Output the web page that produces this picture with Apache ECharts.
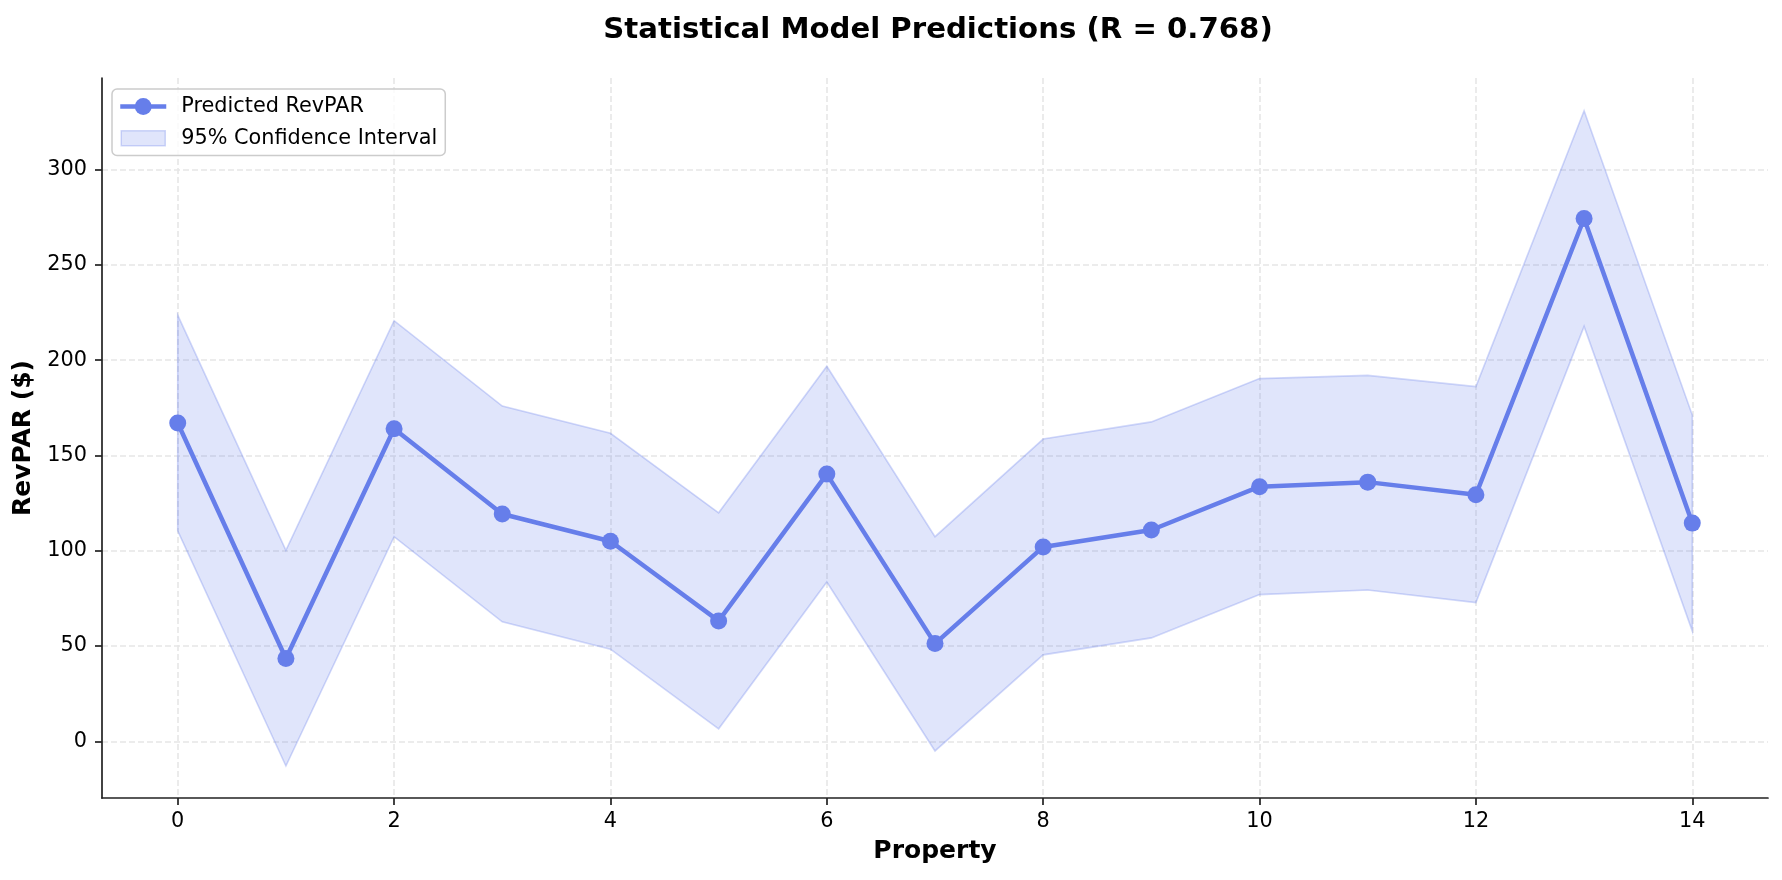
<!DOCTYPE html>
<html>
<head>
<meta charset="utf-8">
<script src="https://cdn.jsdelivr.net/npm/echarts@6/dist/echarts.min.js"></script>
<style>
html,body{margin:0;padding:0;background:#fff;}
#chart{width:1782px;height:880px;}
</style>
</head>
<body>
<div id="chart"></div>
<script>
const properties = [0, 1, 2, 3, 4, 5, 6, 7, 8, 9, 10, 11, 12, 13, 14];
const predicted = [167.0, 43.5, 164.0, 119.3, 105.0, 63.2, 140.2, 51.3, 102.0, 110.9, 133.6, 136.0, 129.4, 274.3, 114.5];
const upperCI = [223.6, 100.2, 220.7, 175.9, 161.6, 119.9, 196.8, 107.4, 158.6, 167.6, 190.3, 192.0, 186.1, 330.8, 171.2];
const lowerCI = [110.4, -12.9, 107.4, 62.7, 48.4, 6.6, 83.6, -5.0, 45.4, 54.3, 77.0, 79.4, 72.8, 217.7, 57.9];
const xTicks = [0, 2, 4, 6, 8, 10, 12, 14];
const yTicks = [0, 50, 100, 150, 200, 250, 300];

const FONT = 'DejaVu Sans';
const LINE = '#667eea';
const FILL = 'rgba(102,126,234,0.2)';
const EDGE = 'rgba(102,126,234,0.3)';

const bandRows = properties.map((p, i) => [p, lowerCI[i], upperCI[i]]);
const predData = properties.map((p, i) => [p, predicted[i]]);

const gridLine = { show: true, lineStyle: { color: '#e6e6e6', width: 1.6, type: [6, 3] } };
const axisLineStyle = { show: true, onZero: false, lineStyle: { color: '#222', width: 1.7 } };

function renderBand(params, api) {
  if (params.dataIndex !== 0) return null;
  const upperPts = bandRows.map(r => api.coord([r[0], r[2]]));
  const lowerPts = bandRows.slice().reverse().map(r => api.coord([r[0], r[1]]));
  return {
    type: 'polygon',
    shape: { points: upperPts.concat(lowerPts) },
    style: { fill: FILL, stroke: EDGE, lineWidth: 1.6 },
    silent: true
  };
}

const chart = echarts.init(document.getElementById('chart'), null, { renderer: 'canvas' });
chart.setOption({
  animation: false,
  backgroundColor: '#fff',
  textStyle: { fontFamily: FONT },
  title: {
    text: 'Statistical Model Predictions (R = 0.768)',
    left: 933, top: 11, textAlign: 'center',
    textStyle: { fontFamily: FONT, fontSize: 29.2, fontWeight: 'bold', color: '#000' }
  },
  grid: { left: 102, right: 14, top: 78, bottom: 82, containLabel: false, outerBoundsMode: 'none' },
  legend: {
    orient: 'vertical', left: 112, top: 89,
    padding: [7, 8, 6, 6],
    borderColor: '#cccccc', borderWidth: 1.5, borderRadius: 5,
    backgroundColor: 'rgba(255,255,255,0.8)',
    itemWidth: 46, itemHeight: 21, itemGap: 10,
    textStyle: { fontFamily: FONT, fontSize: 20.8, color: '#000', padding: [0, 0, 0, 10] },
    data: [
      { name: 'Predicted RevPAR', lineStyle: { color: LINE, width: 4.5 }, itemStyle: { color: LINE } },
      { name: '95% Confidence Interval',
        icon: 'path://M0,0 M46,21 M1,3 L45,3 L45,18 L1,18 Z',
        itemStyle: { color: FILL, borderColor: EDGE, borderWidth: 1.5 } }
    ]
  },
  xAxis: {
    type: 'value', min: -0.7, max: 14.7,
    name: 'Property', nameLocation: 'middle', nameGap: 41,
    nameTextStyle: { fontFamily: FONT, fontSize: 25, fontWeight: 'bold', color: '#000' },
    axisLine: axisLineStyle,
    axisTick: { show: true, length: 7, lineStyle: { color: '#222', width: 1.7 }, customValues: xTicks },
    axisLabel: { show: true, customValues: xTicks, margin: 13, fontFamily: FONT, fontSize: 20.8, color: '#000' },
    splitLine: gridLine
  },
  yAxis: {
    type: 'value', min: -29.7, max: 348,
    name: 'RevPAR ($)', nameLocation: 'middle', nameGap: 59,
    nameTextStyle: { fontFamily: FONT, fontSize: 25, fontWeight: 'bold', color: '#000' },
    axisLine: axisLineStyle,
    axisTick: { show: true, length: 7, lineStyle: { color: '#222', width: 1.7 }, customValues: yTicks },
    axisLabel: { show: true, customValues: yTicks, margin: 15, fontFamily: FONT, fontSize: 20.8, color: '#000' },
    splitLine: gridLine
  },
  series: [
    {
      name: '95% Confidence Interval', type: 'custom',
      data: bandRows,
      encode: { x: 0, y: [1, 2] },
      renderItem: renderBand,
      itemStyle: { color: FILL },
      silent: true,
      z: 2
    },
    {
      name: 'Predicted RevPAR', type: 'line', data: predData,
      symbol: 'circle', symbolSize: 17,
      lineStyle: { color: LINE, width: 4.5 },
      itemStyle: { color: LINE },
      z: 5
    }
  ]
});
</script>
</body>
</html>
